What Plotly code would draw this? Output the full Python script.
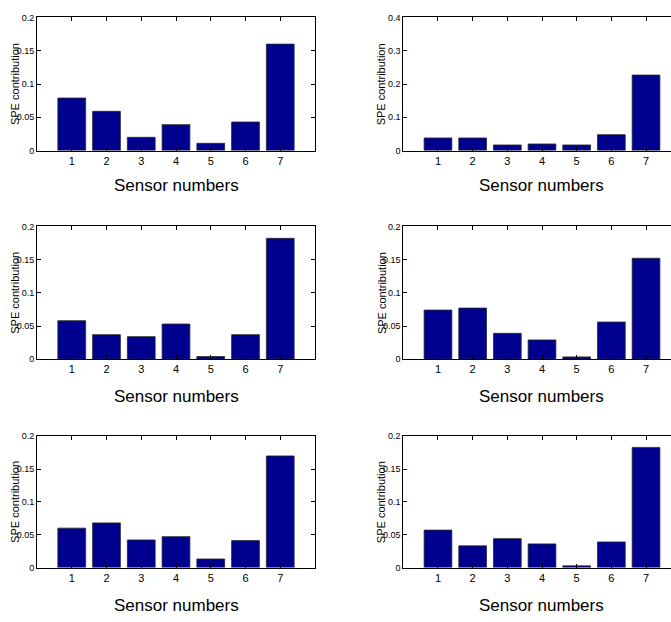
import plotly.graph_objects as go

# Sensor indices on the horizontal axis
sensors = [1, 2, 3, 4, 5, 6, 7]
sensor_ticks = ["1", "2", "3", "4", "5", "6", "7"]

# SPE contribution per sensor, one list per panel (row by row, left then right)
spe_panel_1 = [0.079, 0.059, 0.020, 0.039, 0.011, 0.043, 0.160]
spe_panel_2 = [0.038, 0.038, 0.017, 0.020, 0.017, 0.048, 0.227]
spe_panel_3 = [0.058, 0.037, 0.034, 0.053, 0.004, 0.037, 0.182]
spe_panel_4 = [0.074, 0.077, 0.039, 0.029, 0.0035, 0.056, 0.152]
spe_panel_5 = [0.060, 0.068, 0.042, 0.047, 0.013, 0.041, 0.170]
spe_panel_6 = [0.057, 0.033, 0.044, 0.036, 0.0025, 0.039, 0.183]

# y-axis ticks: most panels span 0..0.2, the top-right one spans 0..0.4
ticks_02 = [0, 0.05, 0.1, 0.15, 0.2]
labels_02 = ["0", "0.05", "0.1", "0.15", "0.2"]
ticks_04 = [0, 0.1, 0.2, 0.3, 0.4]
labels_04 = ["0", "0.1", "0.2", "0.3", "0.4"]

panels = [
    (spe_panel_1, 0.2, ticks_02, labels_02),
    (spe_panel_2, 0.4, ticks_04, labels_04),
    (spe_panel_3, 0.2, ticks_02, labels_02),
    (spe_panel_4, 0.2, ticks_02, labels_02),
    (spe_panel_5, 0.2, ticks_02, labels_02),
    (spe_panel_6, 0.2, ticks_02, labels_02),
]

W, H = 671, 622
col_x = [(37, 315), (403.3, 671)]          # pixel extents of the two columns
col_xmax = [8.0, 7.72]                     # right column runs off the page edge
row_y = [(12.7, 148), (225, 360), (438.3, 571.7)]
title_y = [183.5, 398, 610]                # centre of each row's x-axis title

BAR_COLOR = "#00008F"
FONT = "Liberation Sans, Arial, Helvetica, sans-serif"

fig = go.Figure()
layout = dict(
    width=W, height=H,
    margin=dict(l=0, r=0, t=0, b=0),
    paper_bgcolor="white", plot_bgcolor="white",
    showlegend=False,
    bargap=0.2,
)
annotations = []

for i, (vals, ymax, tv, tt) in enumerate(panels):
    n = i + 1
    r, c = divmod(i, 2)
    xa = "xaxis" if n == 1 else f"xaxis{n}"
    ya = "yaxis" if n == 1 else f"yaxis{n}"
    xr = "x" if n == 1 else f"x{n}"
    yr = "y" if n == 1 else f"y{n}"

    fig.add_trace(go.Bar(
        x=sensors, y=vals, xaxis=xr, yaxis=yr,
        width=0.8,
        marker=dict(color=BAR_COLOR, line=dict(color="#2a2a2a", width=0.8)),
    ))

    x0, x1 = col_x[c]
    y0, y1 = row_y[r]
    layout[xa] = dict(
        domain=[x0 / W, x1 / W], anchor=yr,
        range=[0, col_xmax[c]],
        tickmode="array", tickvals=sensors, ticktext=sensor_ticks,
        ticks="inside", ticklen=4, tickcolor="black",
        showline=True, linecolor="black", linewidth=1,
        mirror="ticks", showgrid=False, zeroline=False,
        tickfont=dict(family=FONT, size=11, color="black"),
        fixedrange=True,
    )
    layout[ya] = dict(
        domain=[1 - y1 / H, 1 - y0 / H], anchor=xr,
        range=[0, ymax],
        tickmode="array", tickvals=tv, ticktext=tt,
        ticks="inside", ticklen=4, tickcolor="black",
        showline=True, linecolor="black", linewidth=1,
        mirror="ticks" if c == 0 else False,
        showgrid=False, zeroline=False,
        tickfont=dict(family=FONT, size=9, color="black"),
        ticklabelstandoff=0,
        fixedrange=True,
    )

    # x-axis title, centred under the full (uncropped) axis extent
    full_right = 315 if c == 0 else 680.6
    annotations.append(dict(
        text="Sensor numbers", showarrow=False,
        xref="paper", yref="paper",
        x=0.5 * (x0 + full_right) / W,
        y=1 - title_y[r] / H,
        xanchor="center", yanchor="middle",
        font=dict(family=FONT, size=17, color="black"),
    ))
    annotations.append(dict(
        text="SPE contribution", showarrow=False, textangle=-90,
        xref="paper", yref=f"{yr} domain",
        x=(x0 - 22) / W, y=0.5,
        xanchor="center", yanchor="middle",
        font=dict(family=FONT, size=11, color="black"),
    ))

layout["annotations"] = annotations
fig.update_layout(**layout)
fig.write_html("out.html")
